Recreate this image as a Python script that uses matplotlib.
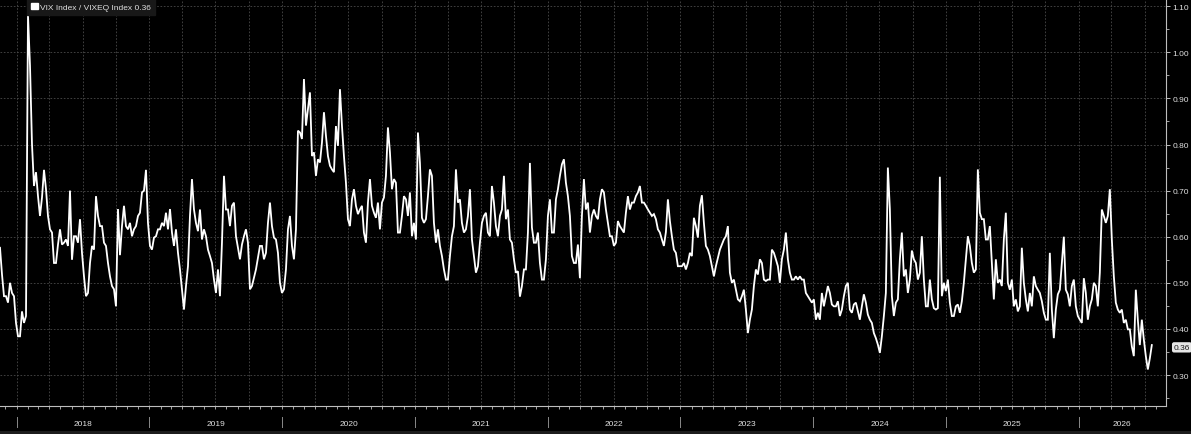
import numpy as np
import pandas as pd
import matplotlib
matplotlib.use("Agg")
import matplotlib.pyplot as plt
import matplotlib.dates as mdates
from matplotlib.patches import Patch, Rectangle
from matplotlib.ticker import MultipleLocator, FixedLocator, FuncFormatter

# ---------------- data (VIX / VIXEQ ratio, evenly spaced in time) ----------------
ratio_a = [0.576, 0.518, 0.471, 0.471, 0.457, 0.50, 0.478, 0.471, 0.413, 0.384,
           0.384, 0.438, 0.413, 0.428, 1.08, 0.971, 0.80, 0.71, 0.74, 0.688,
           0.645, 0.685, 0.745, 0.703, 0.645, 0.616, 0.609, 0.543, 0.543, 0.583,
           0.616, 0.583, 0.587, 0.594, 0.58, 0.70, 0.55, 0.601, 0.601, 0.587,
           0.638, 0.565, 0.514, 0.471, 0.478, 0.543, 0.58, 0.572, 0.688, 0.645,
           0.623, 0.623, 0.587, 0.58, 0.543, 0.514, 0.493, 0.486, 0.449, 0.66,
           0.56, 0.623, 0.667, 0.623, 0.616, 0.63, 0.601, 0.616, 0.623, 0.645,
           0.652, 0.696, 0.70, 0.745, 0.63, 0.58, 0.572, 0.598, 0.601, 0.616,
           0.616, 0.63, 0.623, 0.652, 0.616, 0.66]
ratio_b = [0.609, 0.58, 0.616, 0.565, 0.529, 0.486, 0.442, 0.493, 0.536, 0.645,
           0.725, 0.659, 0.63, 0.612, 0.659, 0.594, 0.616, 0.601, 0.572, 0.558,
           0.543, 0.507, 0.478, 0.529, 0.471, 0.587, 0.732, 0.659, 0.659, 0.623,
           0.667, 0.674, 0.601, 0.576, 0.551, 0.583, 0.601, 0.616, 0.587, 0.486,
           0.493, 0.511, 0.529, 0.554, 0.58, 0.58, 0.551, 0.565, 0.63, 0.674,
           0.623, 0.598, 0.594, 0.565, 0.50, 0.478, 0.486, 0.529, 0.616, 0.645,
           0.58, 0.551, 0.616, 0.83, 0.826, 0.812, 0.942, 0.841, 0.877, 0.913,
           0.775, 0.783, 0.732, 0.768, 0.761, 0.804, 0.87, 0.819, 0.775, 0.754,
           0.746, 0.74]
ratio_c = [0.84, 0.797, 0.92, 0.841, 0.775, 0.717, 0.638, 0.623, 0.681, 0.703,
           0.667, 0.649, 0.659, 0.667, 0.609, 0.587, 0.674, 0.725, 0.667, 0.652,
           0.641, 0.674, 0.616, 0.674, 0.685, 0.732, 0.837, 0.783, 0.703, 0.725,
           0.717, 0.609, 0.609, 0.645, 0.688, 0.681, 0.645, 0.696, 0.601, 0.63,
           0.594, 0.826, 0.76, 0.641, 0.63, 0.638, 0.688, 0.746, 0.732, 0.63,
           0.587, 0.616, 0.58, 0.558, 0.529, 0.507, 0.507, 0.558, 0.601, 0.623,
           0.746, 0.674, 0.681, 0.63, 0.609, 0.616, 0.645, 0.703, 0.594, 0.558,
           0.522, 0.536, 0.587, 0.63, 0.645, 0.652, 0.609, 0.601, 0.71, 0.674,
           0.623, 0.601]
ratio_d = [0.645, 0.659, 0.732, 0.638, 0.659, 0.594, 0.587, 0.551, 0.522, 0.525,
           0.47, 0.493, 0.529, 0.529, 0.609, 0.76, 0.62, 0.587, 0.587, 0.609,
           0.543, 0.507, 0.507, 0.551, 0.645, 0.681, 0.609, 0.609, 0.681, 0.703,
           0.732, 0.757, 0.768, 0.717, 0.688, 0.645, 0.558, 0.543, 0.543, 0.583,
           0.51, 0.645, 0.725, 0.659, 0.674, 0.609, 0.645, 0.659, 0.645, 0.638,
           0.681, 0.703, 0.696, 0.659, 0.63, 0.601, 0.601, 0.58, 0.587, 0.634,
           0.623, 0.616, 0.609, 0.652, 0.688, 0.659, 0.674, 0.674, 0.688, 0.696,
           0.71, 0.674, 0.674, 0.667, 0.659, 0.652, 0.645, 0.649, 0.638, 0.616,
           0.609, 0.594, 0.58, 0.61]
ratio_e = [0.681, 0.634, 0.601, 0.572, 0.565, 0.536, 0.536, 0.536, 0.543, 0.529,
           0.543, 0.565, 0.558, 0.641, 0.623, 0.598, 0.667, 0.69, 0.63, 0.58,
           0.572, 0.558, 0.536, 0.514, 0.536, 0.554, 0.572, 0.583, 0.594, 0.601,
           0.623, 0.522, 0.50, 0.507, 0.485, 0.464, 0.46, 0.471, 0.485, 0.442,
           0.391, 0.42, 0.442, 0.493, 0.529, 0.518, 0.551, 0.543, 0.507, 0.504,
           0.507, 0.507, 0.572, 0.565, 0.551, 0.536, 0.50, 0.551, 0.572, 0.609,
           0.551, 0.522, 0.507, 0.507, 0.514, 0.507, 0.514, 0.507, 0.507, 0.478,
           0.471, 0.464, 0.457, 0.464, 0.42, 0.435, 0.42, 0.478, 0.449, 0.471,
           0.493, 0.478]
ratio_f = [0.453, 0.449, 0.449, 0.46, 0.428, 0.442, 0.471, 0.493, 0.50, 0.442,
           0.435, 0.453, 0.457, 0.438, 0.42, 0.449, 0.475, 0.457, 0.431, 0.42,
           0.413, 0.391, 0.38, 0.366, 0.348, 0.384, 0.428, 0.478, 0.75, 0.66,
           0.471, 0.428, 0.457, 0.464, 0.551, 0.609, 0.514, 0.529, 0.478, 0.507,
           0.57, 0.551, 0.543, 0.507, 0.522, 0.601, 0.507, 0.449, 0.449, 0.507,
           0.464, 0.445, 0.442, 0.445, 0.73, 0.471, 0.50, 0.482, 0.507, 0.457,
           0.428, 0.428, 0.449, 0.453, 0.435, 0.46, 0.50, 0.551, 0.601, 0.58,
           0.543, 0.522, 0.529, 0.746, 0.652, 0.638, 0.638, 0.594, 0.594, 0.623,
           0.543, 0.464]
ratio_g = [0.551, 0.50, 0.507, 0.493, 0.594, 0.652, 0.50, 0.485, 0.507, 0.449,
           0.464, 0.438, 0.449, 0.576, 0.50, 0.464, 0.438, 0.478, 0.449, 0.514,
           0.493, 0.485, 0.478, 0.46, 0.435, 0.42, 0.42, 0.565, 0.442, 0.38,
           0.442, 0.475, 0.485, 0.543, 0.60, 0.485, 0.475, 0.449, 0.493, 0.507,
           0.449, 0.428, 0.42, 0.413, 0.51, 0.478, 0.42, 0.449, 0.464, 0.50,
           0.493, 0.449, 0.522, 0.659, 0.645, 0.63, 0.645, 0.703, 0.594, 0.514,
           0.457, 0.442, 0.435, 0.442, 0.413, 0.42, 0.399, 0.399, 0.362, 0.341,
           0.485, 0.42, 0.365, 0.42, 0.377, 0.341, 0.312, 0.336, 0.365]

ratio = ratio_a + ratio_b + ratio_c + ratio_d + ratio_e + ratio_f + ratio_g

series_label = "VIX Index / VIXEQ Index"
last_value = 0.36
year_labels = ["2018", "2019", "2020", "2021", "2022", "2023", "2024", "2025", "2026"]
y_ticks = [0.30, 0.40, 0.50, 0.60, 0.70, 0.80, 0.90, 1.00, 1.10]

first_date = pd.Timestamp("2017-11-16")
last_date = pd.Timestamp("2026-07-21")
dates = pd.date_range(first_date, last_date, periods=len(ratio))
x_min = pd.Timestamp("2017-11-16")
x_max = pd.Timestamp("2026-08-29")

# ---------------- styling ----------------
BG = "#000000"
TXT = "#e0e0e0"
GRID = "#4a4a4a"
AX = "#bdbdbd"
FONT = ["Liberation Sans", "DejaVu Sans"]
plt.rcParams["font.family"] = FONT

W, H = 1191, 435
fig = plt.figure(figsize=(W / 100, H / 100), dpi=100, facecolor=BG)
ax = fig.add_axes([0, 28 / H, 1166 / W, 407 / H], facecolor=BG)

ax.plot(dates, ratio, color="white", lw=1.3, solid_joinstyle="miter")

ax.set_xlim(x_min, x_max)
ax.set_ylim(0.2328, 1.1156)

for s in ("left", "top"):
    ax.spines[s].set_visible(False)
for s in ("right", "bottom"):
    ax.spines[s].set_color(AX)
    ax.spines[s].set_linewidth(0.8)

# y axis on the right
ax.yaxis.tick_right()
ax.yaxis.set_major_locator(FixedLocator(y_ticks))
ax.yaxis.set_minor_locator(MultipleLocator(0.05))
ax.yaxis.set_major_formatter(FuncFormatter(lambda v, p: f"{v:.2f}"))
ax.tick_params(axis="y", which="major", direction="out", length=3, width=0.7,
               color=AX, labelcolor=TXT, labelsize=6, pad=1.5)
ax.tick_params(axis="y", which="minor", direction="out", length=2, width=0.6, color=AX)

# x axis: quarterly grid, monthly ticks, no tick labels
ax.xaxis.set_major_locator(mdates.MonthLocator(bymonth=[1, 4, 7, 10]))
ax.xaxis.set_minor_locator(mdates.MonthLocator())
ax.tick_params(axis="x", which="both", direction="out", length=2, width=0.6,
               color=AX, labelbottom=False)

ax.grid(True, which="major", axis="both", color=GRID, lw=0.6, linestyle=(0, (2, 2)))

# year labels and separators below the axis
trans = ax.get_xaxis_transform()
bounds = [pd.Timestamp(f"{y}-01-01") for y in year_labels] + [x_max]
for i, lab in enumerate(year_labels):
    a, b = bounds[i], bounds[i + 1]
    mid = a + (b - a) / 2
    ax.text(mid, -0.042, lab, transform=trans, ha="center", va="center",
            fontsize=6, color=TXT, clip_on=False)
    ax.plot([a, a], [-0.027, -0.052], transform=trans, color="#8a8a8a",
            lw=0.7, clip_on=False)

# legend
handle = Patch(facecolor="white", edgecolor="white")
leg = ax.legend([handle], [f"{series_label} {last_value:.2f}"], loc="upper left",
                bbox_to_anchor=(27 / 1166, 1.0), borderaxespad=0, frameon=True,
                fancybox=False, fontsize=6, handlelength=0.85, handleheight=0.85,
                handletextpad=0.3, borderpad=0.45, labelcolor=TXT)
leg.get_frame().set_facecolor("#181818")
leg.get_frame().set_edgecolor("#181818")
leg.get_frame().set_alpha(1)

# last value tag
ax.annotate(f"{last_value:.2f}", xy=(1.0, last_value), xycoords=("axes fraction", "data"),
            xytext=(5.5, 0), textcoords="offset points", ha="left", va="center",
            fontsize=6, color="#1a1a1a", annotation_clip=False,
            bbox=dict(boxstyle="round,pad=0.2,rounding_size=0.25", fc="#e6e6e6", ec="none"))

# bottom window strip
fig.add_artist(Rectangle((0, 0), 1, 3 / H, transform=fig.transFigure,
                         facecolor="#1c1c1c", edgecolor="none"))

fig.savefig("out.png", dpi=100, facecolor=BG)
